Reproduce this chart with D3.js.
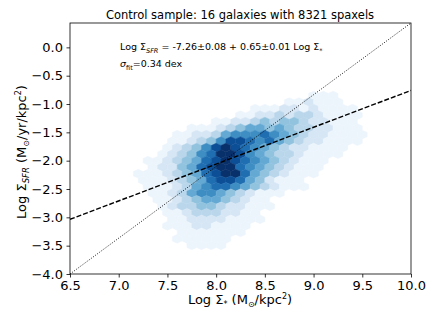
<!DOCTYPE html>
<html><head><meta charset="utf-8">
<script src="https://cdn.jsdelivr.net/npm/d3@7"></script>
<style>body{margin:0;background:#fff}svg{display:block;font-family:"DejaVu Sans",sans-serif}</style>
</head><body><svg id="c" width="436" height="327"></svg>
<script>
// ---- data ----
const xTicks = [6.5, 7.0, 7.5, 8.0, 8.5, 9.0, 9.5, 10.0];
const yTicks = [0.0, -0.5, -1.0, -1.5, -2.0, -2.5, -3.0, -3.5, -4.0];
const xDomain = [6.5, 10.0];
const yDomain = [-4.0, 0.43];
const fitIntercept = -7.26, fitSlope = 0.65;
// hexbin lattice: column centres x = 7.2 + c*0.1 (+0.05 on odd rows); row centres y = -0.85 - r*0.115
const hexX0 = 7.2, hexDX = 0.1, hexY0 = -0.85, hexDY = 0.115;
// density level per cell (0 = empty, 1..9 = count level)
const hexRows = [
  "000000000000000000111000",
  "000000000000000112111000",
  "000000000000111221211110",
  "000000000011223233211110",
  "000000001122343443221110",
  "000001112345545433221110",
  "000011223566676543221111",
  "000112346887675432211110",
  "000123468987654322111100",
  "001234679986543321111000",
  "011234578987654321110000",
  "012245789976543211100000",
  "111234578997543211100000",
  "11123457887542111000000",
  "011123567765432111000000",
  "011235665432111000000000",
  "001123455432110000000000",
  "001233443221110000000000",
  "000112333221100000000000",
  "000112222111100000000000",
  "000111221111000000000000",
  "000011111110000000000000",
  "000011111100000000000000",
  "000001111000000000000000"
];

const svg = d3.select("#c");
const M = {l:70, r:411, t:23, b:274};
const x = d3.scaleLinear().domain(xDomain).range([M.l, M.r]);
const y = d3.scaleLinear().domain(yDomain).range([M.b, M.t]);
const color = d3.scaleSequential(d3.interpolateBlues).domain([0.6, 9]);

// hexagons (pointy-top, matplotlib style)
const sx = hexDX, sy = hexDY*2;
const off = [[0.5,-0.5],[0.5,0.5],[0,1],[-0.5,0.5],[-0.5,-0.5],[0,-1]].map(([a,b])=>[a*sx,b*sy/3]);
const cells = [];
hexRows.forEach((row, r) => {
  row.split("").forEach((ch, c) => {
    const v = +ch;
    if (v > 0) cells.push({cx: hexX0 + c*hexDX + (r%2 ? hexDX/2 : 0), cy: hexY0 - r*hexDY, v});
  });
});
const g = svg.append("g");
g.selectAll("path.hex").data(cells).enter().append("path")
  .attr("d", d => "M" + off.map(([a,b]) => [x(d.cx+a), y(d.cy+b)].join(",")).join("L") + "Z")
  .attr("fill", d => color(d.v)).attr("stroke", d => color(d.v)).attr("stroke-width", 0.5);

// clip for lines
svg.append("clipPath").attr("id","clip").append("rect")
  .attr("x", M.l).attr("y", M.t).attr("width", M.r-M.l).attr("height", M.b-M.t);

// diagonal dotted line (axes diagonal)
svg.append("line").attr("clip-path","url(#clip)")
  .attr("x1", x(xDomain[0])).attr("y1", y(yDomain[0])).attr("x2", x(xDomain[1])).attr("y2", y(yDomain[1]))
  .attr("stroke", "#000").attr("stroke-width", 0.9).attr("stroke-dasharray", "1,1.6");

// fit line dashed
svg.append("line").attr("clip-path","url(#clip)")
  .attr("x1", x(xDomain[0])).attr("y1", y(fitIntercept + fitSlope*xDomain[0]))
  .attr("x2", x(xDomain[1])).attr("y2", y(fitIntercept + fitSlope*xDomain[1]))
  .attr("stroke", "#000").attr("stroke-width", 1.4).attr("stroke-dasharray", "5,2");

// axes
const fmt = v => d3.format(".1f")(v).replace("-", "\u2212");
const xa = svg.append("g").attr("transform", `translate(0,${M.b})`)
  .call(d3.axisBottom(x).tickValues(xTicks).tickFormat(fmt).tickSize(3.5).tickPadding(3.5));
const ya = svg.append("g").attr("transform", `translate(${M.l},0)`)
  .call(d3.axisLeft(y).tickValues(yTicks).tickFormat(fmt).tickSize(3.5).tickPadding(3.5));
[xa, ya].forEach(a => {
  a.select(".domain").remove();
  a.selectAll("text").attr("font-size", 13).attr("font-family", "DejaVu Sans").attr("fill", "#000");
  a.selectAll("line").attr("stroke", "#000").attr("stroke-width", 0.8);
});
svg.append("rect").attr("x", M.l).attr("y", M.t).attr("width", M.r-M.l).attr("height", M.b-M.t)
  .attr("fill", "none").attr("stroke", "#000").attr("stroke-width", 0.8);

// title
svg.append("text").attr("x", 240).attr("y", 19).attr("text-anchor", "middle")
  .attr("font-size", 11.5).text("Control sample: 16 galaxies with 8321 spaxels");

// x label
const xl = svg.append("text").attr("x", 240).attr("y", 304).attr("text-anchor", "middle").attr("font-size", 13);
xl.append("tspan").text("Log Σ");
xl.append("tspan").attr("font-size", 8).attr("dy", 3).text("*");
xl.append("tspan").attr("dy", -3).text(" (M");
xl.append("tspan").attr("font-size", 8).attr("dy", 3).text("\u2299");
xl.append("tspan").attr("dy", -3).text("/kpc");
xl.append("tspan").attr("font-size", 8).attr("dy", -5).text("2");
xl.append("tspan").attr("dy", 5).text(")");

// y label
const yl = svg.append("text").attr("transform", "translate(26,152) rotate(-90)").attr("text-anchor", "middle").attr("font-size", 13);
yl.append("tspan").text("Log Σ");
yl.append("tspan").attr("font-size", 8.5).attr("font-style", "italic").attr("dy", 3).text("SFR");
yl.append("tspan").attr("dy", -3).text(" (M");
yl.append("tspan").attr("font-size", 8).attr("dy", 3).text("\u2299");
yl.append("tspan").attr("dy", -3).text("/yr/kpc");
yl.append("tspan").attr("font-size", 8).attr("dy", -5).text("2");
yl.append("tspan").attr("dy", 5).text(")");

// annotation
const a1 = svg.append("text").attr("x", 120).attr("y", 50).attr("font-size", 9.5);
a1.append("tspan").text("Log Σ");
a1.append("tspan").attr("font-size", 6.5).attr("font-style", "italic").attr("dy", 2.5).text("SFR");
a1.append("tspan").attr("dy", -2.5).text(" = -7.26±0.08 + 0.65±0.01 Log Σ");
a1.append("tspan").attr("font-size", 6.5).attr("dy", 2.5).text("*");
const a2 = svg.append("text").attr("x", 120).attr("y", 67).attr("font-size", 9.5);
a2.append("tspan").attr("font-style", "italic").text("σ");
a2.append("tspan").attr("font-size", 6.5).attr("dy", 2.5).text("fit");
a2.append("tspan").attr("dy", -2.5).text("=0.34 dex");
</script></body></html>
